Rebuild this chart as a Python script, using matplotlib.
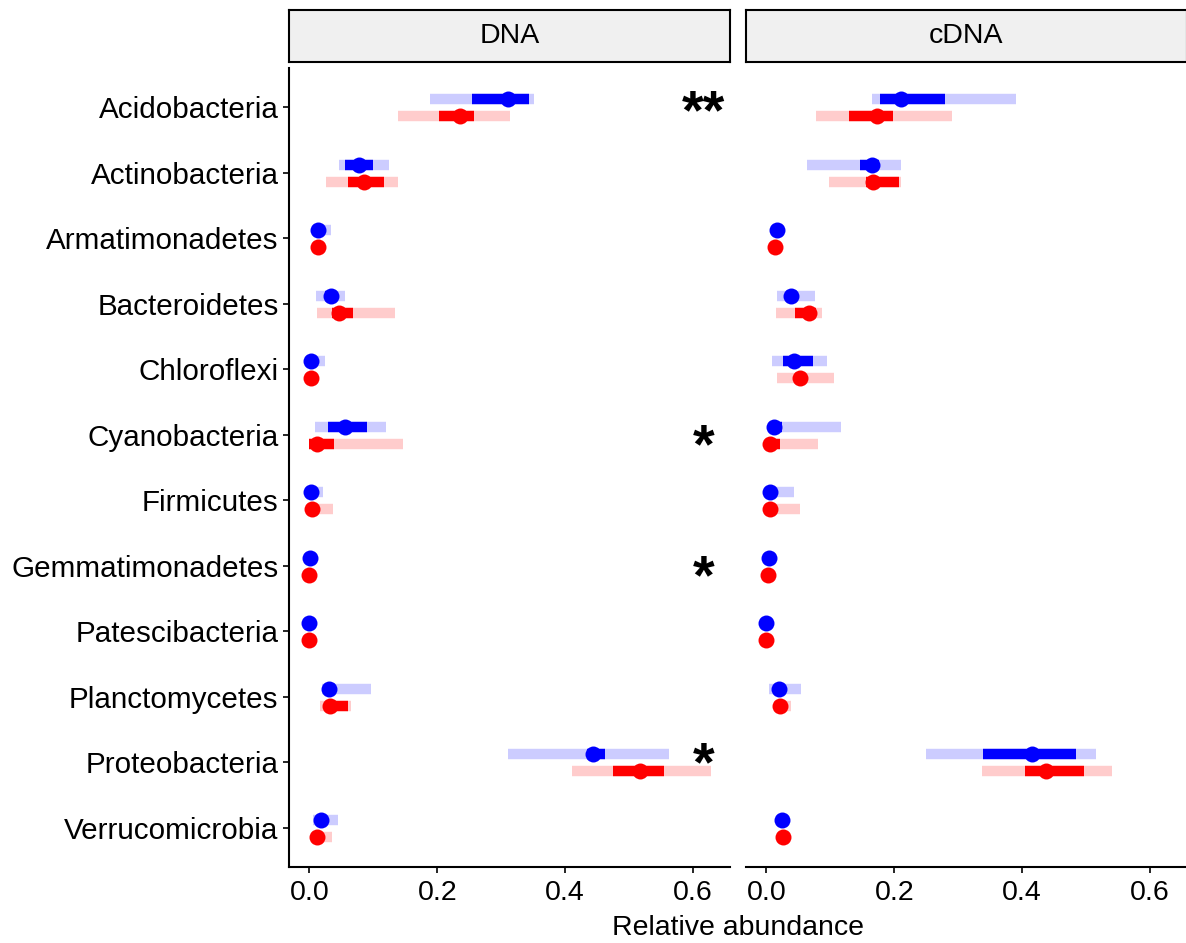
import numpy as np
import matplotlib.pyplot as plt
from matplotlib.transforms import offset_copy

plt.rcParams['font.family'] = ['Liberation Sans', 'DejaVu Sans']

phyla = ["Acidobacteria", "Actinobacteria", "Armatimonadetes", "Bacteroidetes",
         "Chloroflexi", "Cyanobacteria", "Firmicutes", "Gemmatimonadetes",
         "Patescibacteria", "Planctomycetes", "Proteobacteria", "Verrucomicrobia"]

# DNA, blue group: median, 50% and 95% intervals
dna_blue_med = [0.310, 0.078, 0.014, 0.033, 0.003, 0.056, 0.003, 0.001, 0.0, 0.030, 0.444, 0.018]
dna_blue_lo50 = [0.255, 0.055, 0.010, 0.025, 0.001, 0.029, 0.001, 0.0, 0.0, 0.027, 0.435, 0.012]
dna_blue_hi50 = [0.343, 0.100, 0.020, 0.042, 0.008, 0.090, 0.008, 0.002, 0.001, 0.040, 0.462, 0.025]
dna_blue_lo95 = [0.188, 0.047, 0.005, 0.011, 0.0, 0.009, 0.0, 0.0, 0.0, 0.020, 0.310, 0.005]
dna_blue_hi95 = [0.351, 0.124, 0.033, 0.055, 0.025, 0.119, 0.021, 0.004, 0.002, 0.096, 0.563, 0.045]

# DNA, red group
dna_red_med = [0.235, 0.085, 0.013, 0.047, 0.003, 0.012, 0.004, 0.0, 0.0, 0.032, 0.517, 0.012]
dna_red_lo50 = [0.203, 0.060, 0.010, 0.035, 0.001, 0.0, 0.002, 0.0, 0.0, 0.031, 0.475, 0.008]
dna_red_hi50 = [0.258, 0.116, 0.017, 0.068, 0.006, 0.038, 0.010, 0.001, 0.001, 0.060, 0.554, 0.020]
dna_red_lo95 = [0.138, 0.026, 0.006, 0.0125, 0.0, 0.0, 0.0, 0.0, 0.0, 0.016, 0.411, 0.004]
dna_red_hi95 = [0.313, 0.139, 0.020, 0.134, 0.012, 0.146, 0.037, 0.003, 0.002, 0.065, 0.628, 0.036]

# cDNA, blue group
cdna_blue_med = [0.210, 0.165, 0.017, 0.039, 0.043, 0.0125, 0.006, 0.004, 0.0, 0.020, 0.416, 0.025]
cdna_blue_lo50 = [0.177, 0.147, 0.014, 0.030, 0.026, 0.008, 0.003, 0.002, 0.0, 0.015, 0.339, 0.022]
cdna_blue_hi50 = [0.280, 0.176, 0.020, 0.048, 0.073, 0.025, 0.012, 0.006, 0.001, 0.028, 0.484, 0.029]
cdna_blue_lo95 = [0.165, 0.063, 0.010, 0.016, 0.008, 0.004, 0.0, 0.0, 0.0, 0.004, 0.249, 0.018]
cdna_blue_hi95 = [0.391, 0.211, 0.025, 0.076, 0.094, 0.116, 0.043, 0.008, 0.002, 0.054, 0.516, 0.032]

# cDNA, red group
cdna_red_med = [0.173, 0.167, 0.013, 0.067, 0.052, 0.005, 0.006, 0.003, 0.0, 0.021, 0.438, 0.026]
cdna_red_lo50 = [0.129, 0.155, 0.010, 0.045, 0.045, 0.0, 0.003, 0.001, 0.0, 0.018, 0.405, 0.023]
cdna_red_hi50 = [0.198, 0.207, 0.016, 0.078, 0.060, 0.021, 0.012, 0.005, 0.001, 0.026, 0.497, 0.030]
cdna_red_lo95 = [0.078, 0.098, 0.007, 0.015, 0.016, 0.0, 0.0, 0.0, 0.0, 0.012, 0.337, 0.019]
cdna_red_hi95 = [0.291, 0.211, 0.020, 0.087, 0.105, 0.080, 0.052, 0.007, 0.002, 0.038, 0.540, 0.033]

# significance marks (DNA panel only)
sig_phyla = ["Acidobacteria", "Cyanobacteria", "Gemmatimonadetes", "Proteobacteria"]
sig_marks = ["**", "*", "*", "*"]
sig_shift = [0.05, -0.04, -0.04, 0.10]   # small vertical nudges, in row units

W, H = 1186, 943
fig = plt.figure(figsize=(W / 100, H / 100), dpi=100)

ypos = np.arange(len(phyla))[::-1] + 1.0
blue_off, red_off = 0.12, -0.14


def draw_group(ax, off, med, lo50, hi50, lo95, hi95, color, light):
    y = ypos + off
    ax.hlines(y, lo95, hi95, color=light, lw=7.5, capstyle='butt', zorder=2)
    ax.hlines(y, lo50, hi50, color=color, lw=7.5, capstyle='butt', zorder=3)
    ax.plot(med, y, 'o', color=color, ms=11.5, mec='none', zorder=4)


panels = [
    ("DNA", 289, (dna_blue_med, dna_blue_lo50, dna_blue_hi50, dna_blue_lo95, dna_blue_hi95),
     (dna_red_med, dna_red_lo50, dna_red_hi50, dna_red_lo95, dna_red_hi95)),
    ("cDNA", 746, (cdna_blue_med, cdna_blue_lo50, cdna_blue_hi50, cdna_blue_lo95, cdna_blue_hi95),
     (cdna_red_med, cdna_red_lo50, cdna_red_hi50, cdna_red_lo95, cdna_red_hi95)),
]

panel_w = 441
top_px, bottom_px = 68, 867
axes = []
for i, (title, left_px, blue, red) in enumerate(panels):
    ax = fig.add_axes([left_px / W, 1 - bottom_px / H, panel_w / W, (bottom_px - top_px) / H])
    draw_group(ax, blue_off, *blue, color='#0000ff', light='#ccccff')
    draw_group(ax, red_off, *red, color='#ff0000', light='#ffcccc')

    ax.set_xlim(-0.032, 0.658)
    ax.set_ylim(0.4, len(phyla) + 0.6)
    ax.set_xticks([0.0, 0.2, 0.4, 0.6])
    ax.set_xticklabels(["0.0", "0.2", "0.4", "0.6"])
    for s in ['top', 'right']:
        ax.spines[s].set_visible(False)
    ax.spines['bottom'].set_linewidth(1.5)
    ax.spines['left'].set_linewidth(1.5)
    ax.tick_params(axis='x', length=4.5, width=1.2, labelsize=20.5, pad=5, colors='black')
    if i == 0:
        ax.set_yticks(ypos)
        ax.set_yticklabels(phyla)
        ax.tick_params(axis='y', length=4.5, width=1.2, labelsize=21.3, pad=3)
    else:
        ax.spines['left'].set_visible(False)
        ax.set_yticks([])

    # facet strip
    sax = fig.add_axes([left_px / W, 1 - 62 / H, panel_w / W, 52 / H])
    sax.set_xticks([])
    sax.set_yticks([])
    sax.set_facecolor('#f0f0f0')
    for s in sax.spines.values():
        s.set_linewidth(1.5)
    sax.text(0.5, 0.5, title, ha='center', va='center', fontsize=20.5, transform=sax.transAxes)
    axes.append(ax)

ax_dna = axes[0]
star_size = 40
# asterisk ink sits high above the baseline, so drop the baseline to centre it on the row
star_tr = offset_copy(ax_dna.transData, fig=fig, y=-0.44 * star_size, units='points')
for name, mark, dy in zip(sig_phyla, sig_marks, sig_shift):
    y = ypos[phyla.index(name)] + dy
    ax_dna.text(0.617, y, mark, ha='center', va='baseline', fontsize=star_size,
                fontweight='bold', transform=star_tr)

fig.text(738 / W, 1 - 928 / H, "Relative abundance", ha='center', va='center', fontsize=20.5)

fig.savefig("out.png", dpi=100)
